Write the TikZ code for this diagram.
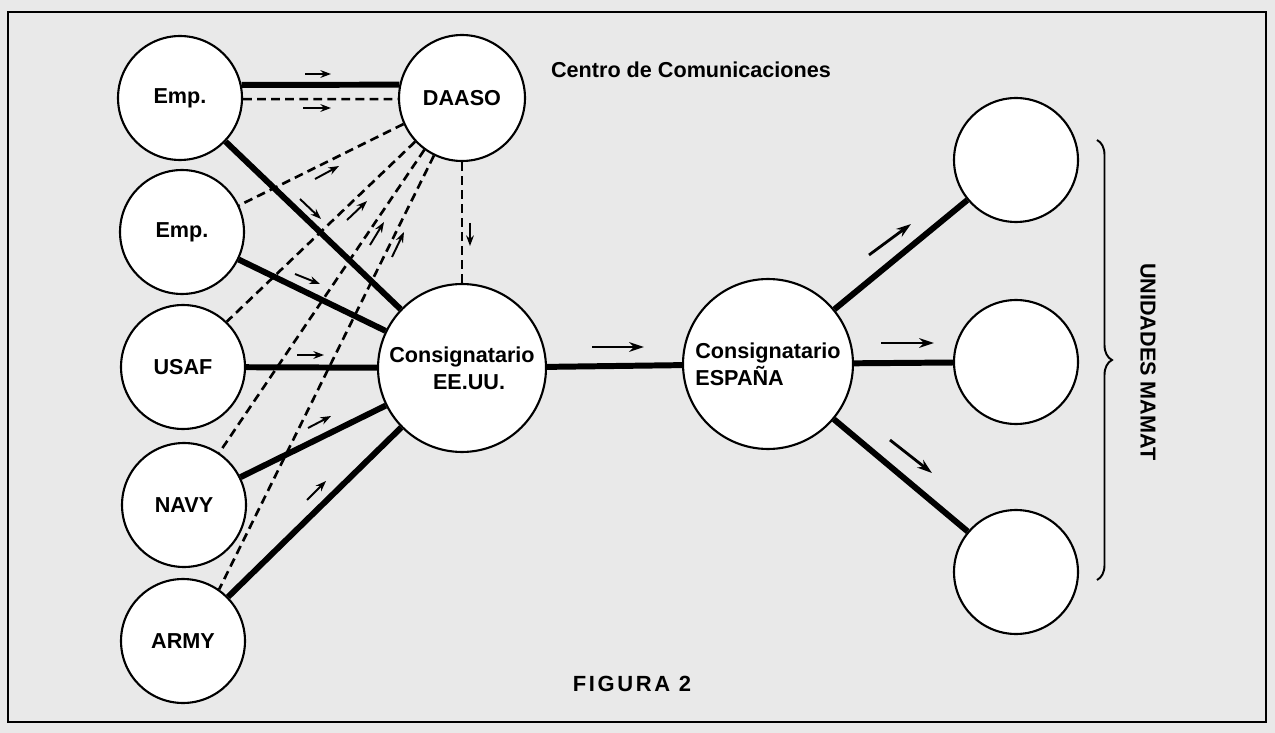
\documentclass[tikz,border=0pt]{standalone}
\usepackage{fontspec}
\setmainfont{Liberation Sans}
\usetikzlibrary{arrows.meta,decorations.pathreplacing}
\definecolor{paper}{RGB}{233,233,233}
\begin{document}
\begin{tikzpicture}[x=0.02cm,y=-0.02cm,
  circ/.style={circle,draw,fill=white,line width=1.2pt,inner sep=0pt,minimum size=#1,
    font=\bfseries\fontsize{12.3}{15.5}\selectfont},
  lbl/.style={font=\bfseries\fontsize{12.3}{15}\selectfont,inner sep=0pt},
  thickline/.style={line width=3.4pt},
  dashline/.style={line width=1.5pt,dash pattern=on 5pt off 3pt},
  sarr/.style={-{Stealth[length=6pt,width=4.4pt]},line width=1.1pt},
  barr/.style={-{Stealth[length=8.5pt,width=5.5pt]},line width=1.6pt}]
\useasboundingbox (0,0) rectangle (1275,733);
\fill[paper] (0,0) rectangle (1275,733);
\draw[line width=1.5pt] (8,12) rectangle (1266,722);

% nodes
\node[circ=2.48cm] (emp1) at (180,98) {Emp.};
\node[circ=2.52cm] (daaso) at (462,98) {DAASO};
\node[circ=2.48cm] (emp2) at (182,232) {Emp.};
\node[circ=2.48cm] (usaf) at (183,367) {USAF};
\node[circ=2.48cm] (navy) at (184,505) {NAVY};
\node[circ=2.48cm] (army) at (183,641) {ARMY};
\node[circ=3.36cm,align=center] (eeuu) at (462,368) {Consignatario\\\hspace*{8pt}EE.UU.};
\node[circ=3.4cm,align=left] (esp) at (768,364) {Consignatario\\ESPAÑA};
\node[circ=2.48cm] (u1) at (1016,160) {};
\node[circ=2.48cm] (u2) at (1016,362) {};
\node[circ=2.48cm] (u3) at (1016,572) {};

% connectors
\draw[thickline] (emp1.12) -- (daaso.168);
\draw[dashline] (emp1.-1) -- (daaso.181);
\draw[dashline] (daaso.204) -- (emp2.25);
\draw[dashline] (daaso.223) -- (usaf.46);
\draw[dashline] (daaso.234) -- (navy.56);
\draw[dashline] (daaso.244) -- (army.55);
\draw[dashline] (daaso.south) -- (eeuu.north);
\draw[thickline] (emp1) -- (eeuu);
\draw[thickline] (emp2) -- (eeuu);
\draw[thickline] (usaf) -- (eeuu);
\draw[thickline] (navy) -- (eeuu);
\draw[thickline] (army) -- (eeuu);
\draw[thickline] (eeuu) -- (esp);
\draw[thickline] (esp) -- (u1);
\draw[thickline] (esp) -- (u2);
\draw[thickline] (esp) -- (u3);

% direction arrows
\draw[sarr] (305,74) -- (331,74);
\draw[sarr] (303,108) -- (331,108);
\draw[sarr] (315,179) -- (339,166);
\draw[sarr] (300,199) -- (321,219);
\draw[sarr] (347,220) -- (367,201);
\draw[sarr] (370,245) -- (384,222);
\draw[sarr] (392,257) -- (404,232);
\draw[sarr] (295,274) -- (320,284);
\draw[sarr] (297,355) -- (324,355);
\draw[sarr] (308,428) -- (331,416);
\draw[sarr] (307,500) -- (326,481);
\draw[sarr] (470,223) -- (470,246);
\draw[barr] (592,347) -- (644,347);
\draw[barr] (869,255) -- (911,224);
\draw[barr] (881,343) -- (934,343);
\draw[barr] (890,440) -- (932,473);

% brace and labels
\draw[line width=1.1pt,decorate,decoration={brace,amplitude=0.3cm}] (1097,140) -- (1097,580);
\node[lbl,rotate=-90] (um) at (1148,362) {UNIDADES MAMAT};
\node[lbl] (cc) at (691,70) {Centro de Comunicaciones};
\node[lbl,font=\bfseries\fontsize{12.5}{15}\selectfont\addfontfeatures{LetterSpace=12}] (fig) at (632,684) {FIGURA 2};
\end{tikzpicture}
\end{document}
